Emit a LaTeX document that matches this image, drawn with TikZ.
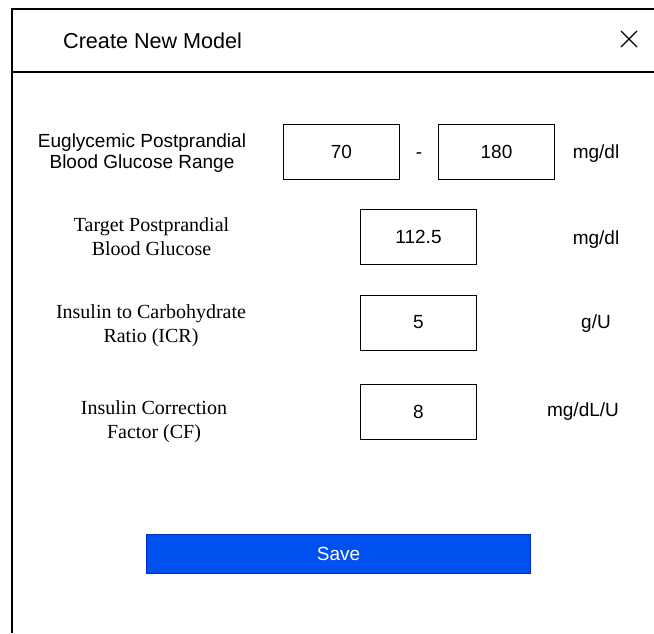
\documentclass[tikz,border=0pt]{standalone}
\usepackage{fontspec}
\setmainfont{Liberation Sans}
\newfontfamily\timesface{Liberation Serif}
\definecolor{saveblue}{RGB}{0,80,240}
\definecolor{saveedge}{RGB}{0,45,200}
\usetikzlibrary{calc}
\usetikzlibrary{positioning}
\tikzset{
  frameline/.style={line width=1.3pt, black},
  field/.style={draw, line width=1pt, minimum width=116pt, minimum height=55pt, inner sep=0pt, font=\fontsize{19}{21}\selectfont},
  sanslabel/.style={align=center, inner sep=0pt, font=\fontsize{19}{21}\selectfont},
  seriflabel/.style={align=center, inner sep=0pt, font=\timesface\fontsize{20}{24}\selectfont},
  unit/.style={inner sep=0pt, font=\fontsize{19}{21}\selectfont}
}

\begin{document}
\begin{tikzpicture}[x=1pt, y=-1pt]
  \useasboundingbox (0,0) rectangle (654,633);

  % dialog frame and header
  \draw[frameline] (654,9) -- (12,9) -- (12,633);
  \draw[frameline] (12,72) -- (654,72);
  \node[anchor=west, inner sep=0pt, font=\fontsize{21.6}{24}\selectfont] (title) at (63,41) {Create New Model};
  \coordinate (close) at (629,39);
  \draw[line width=1.3pt] (close) ++(-8,-8) -- ++(16,16) (close) ++(8,-8) -- ++(-16,16);

  % range row
  \node[sanslabel] (eugly) at (142,153) {Euglycemic Postprandial\\Blood Glucose Range};
  \node[field] (low) at (341.5,151.5) {70};
  \node[field, right=38pt of low] (high) {180};
  \node[unit, anchor=base] (dash) at ($(low.base east)!0.5!(high.base west)$) {-};
  \node[unit] (rangeunit) at (596,154) {mg/dl};

  % target row
  \node[seriflabel] (target) at (151.5,237) {Target Postprandial\\Blood Glucose};
  \node[field] (targetval) at (418.5,236.5) {112.5};
  \node[unit] (targetunit) at (596,240) {mg/dl};

  % ratio row
  \node[seriflabel] (icr) at (151,326) {Insulin to Carbohydrate\\Ratio (ICR)};
  \node[field, below=30pt of targetval] (icrval) {5};
  \node[unit] (icrunit) at (596,324) {g/U};

  % correction row
  \node[seriflabel] (cf) at (154,422) {Insulin Correction\\Factor (CF)};
  \node[field, below=33pt of icrval] (cfval) {8};
  \node[unit] (cfunit) at (583,412) {mg/dL/U};

  % save button
  \node[fill=saveblue, draw=saveedge, line width=1pt, minimum width=384pt, minimum height=39pt, text=white, font=\fontsize{19}{21}\selectfont] (save) at (338.5,553.5) {Save};
\end{tikzpicture}
\end{document}
